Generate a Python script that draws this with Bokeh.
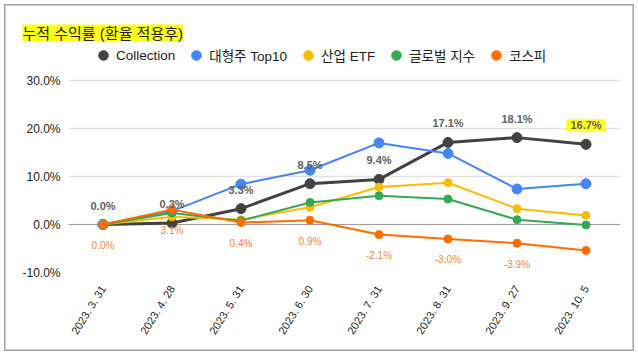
import math
from bokeh.plotting import figure
from bokeh.models import (ColumnDataSource, Range1d, FixedTicker, PrintfTickFormatter,
                          Legend, LegendItem, Title, Span)
from bokeh.core.properties import value
from bokeh.embed import file_html
from bokeh.resources import INLINE

dates = ["2023. 3. 31", "2023. 4. 28", "2023. 5. 31", "2023. 6. 30",
         "2023. 7. 31", "2023. 8. 31", "2023. 9. 27", "2023. 10. 5"]
collection = [0.0, 0.3, 3.3, 8.5, 9.4, 17.1, 18.1, 16.7]
top10 = [0.0, 2.8, 8.4, 11.3, 17.0, 14.8, 7.4, 8.5]
etf = [0.0, 1.6, 1.0, 3.6, 7.8, 8.7, 3.3, 1.9]
global_idx = [0.0, 2.4, 0.8, 4.6, 6.0, 5.3, 1.0, -0.1]
kospi = [0.0, 3.1, 0.4, 0.9, -2.1, -3.0, -3.9, -5.4]
series_names = ["Collection", "대형주 Top10", "산업 ETF", "글로벌 지수", "코스피"]
y_ticks = [-10, 0, 10, 20, 30]
title_text = "누적 수익률 (환율 적용후)"

colors = ["#424242", "#4285f4", "#fbbc04", "#34a853", "#ff6d01"]
sizes = [10, 10, 8, 8, 8]
FONT = "Liberation Sans, Noto Sans CJK KR"

# frame: top at 44px (legend lives inside), 30% gridline at 80px, 48px per 10%
p = figure(width=638, height=355, x_range=dates, y_range=Range1d(-10, 37.5),
           output_backend="svg", toolbar_location=None, title=None,
           min_border_left=68, min_border_right=18, min_border_top=44,
           min_border_bottom=83)
p.outline_line_color = None
p.background_fill_color = None
p.border_fill_color = None
p.styles = {"box-shadow": "inset 0 0 0 4px #ffffff, inset 0 0 0 5.5px #a0a0a0"}

p.ygrid.grid_line_color = "#e3e3e3"
p.ygrid.grid_line_width = 1.5
p.xgrid.grid_line_color = None
p.yaxis.ticker = FixedTicker(ticks=y_ticks)
p.yaxis.formatter = PrintfTickFormatter(format="%.1f%%")
for ax in (p.xaxis[0], p.yaxis[0]):
    ax.axis_line_color = None
    ax.major_tick_line_color = None
    ax.minor_tick_line_color = None
    ax.major_label_text_font = FONT
    ax.major_label_text_color = "#222222"
p.yaxis.major_label_text_font_size = "12px"
p.yaxis.major_label_standoff = 2
p.xaxis.major_label_text_font_size = "11px"
p.xaxis.major_label_orientation = math.radians(58)
p.xaxis.major_label_standoff = 8

p.add_layout(Span(location=0, dimension="width", line_color="#9e9e9e", line_width=1.2,
                  level="underlay"))

renderers = []
for name, ys, c, s in zip(series_names, [collection, top10, etf, global_idx, kospi], colors, sizes):
    src = ColumnDataSource(dict(x=dates, y=ys))
    lw = 3 if name == "Collection" else 2
    p.line("x", "y", source=src, line_color=c, line_width=lw)
    r = p.scatter("x", "y", source=src, size=s, fill_color=c, line_color=c)
    renderers.append(r)

# data labels
lab_c = ColumnDataSource(dict(x=dates[:-1], y=collection[:-1],
                              t=["%.1f%%" % v for v in collection[:-1]]))
p.text("x", "y", text="t", source=lab_c, text_align="center", text_baseline="middle",
       y_offset=-19, text_font=value(FONT), text_font_size="11px", text_color="#616161",
       text_font_style="bold")
lab_last = ColumnDataSource(dict(x=dates[-1:], y=collection[-1:],
                                 t=["%.1f%%" % v for v in collection[-1:]]))
p.text("x", "y", text="t", source=lab_last, text_align="center", text_baseline="middle",
       y_offset=-19, text_font=value(FONT), text_font_size="11px", text_color="#616161",
       text_font_style="bold", background_fill_color="#ffff00", background_fill_alpha=0.9,
       padding=(4, 4, 0, 0))
lab_k = ColumnDataSource(dict(x=dates[:-1], y=kospi[:-1],
                              t=["%.1f%%" % v for v in kospi[:-1]]))
p.text("x", "y", text="t", source=lab_k, text_align="center", text_baseline="middle",
       y_offset=21, text_font=value(FONT), text_font_size="10px", text_color="#f5853a")

legend = Legend(items=[LegendItem(label=n, renderers=[r]) for n, r in zip(series_names, renderers)],
                orientation="horizontal", location=(23, 205), border_line_color=None,
                background_fill_alpha=0, padding=0, margin=0, spacing=9,
                label_standoff=1, glyph_width=24, glyph_height=24, label_height=24,
                label_text_font=FONT, label_text_font_size="13.5px", label_text_color="#222222")
p.add_layout(legend, "center")

title = Title(text=title_text, text_font=FONT, text_font_size="15px",
              text_font_style="normal", text_color="#222222", align="left",
              offset=-46, standoff=6, background_fill_color="#ffff00",
              background_fill_alpha=0.9)
p.add_layout(title, "above")

open("out.html", "w").write(file_html(p, INLINE))
